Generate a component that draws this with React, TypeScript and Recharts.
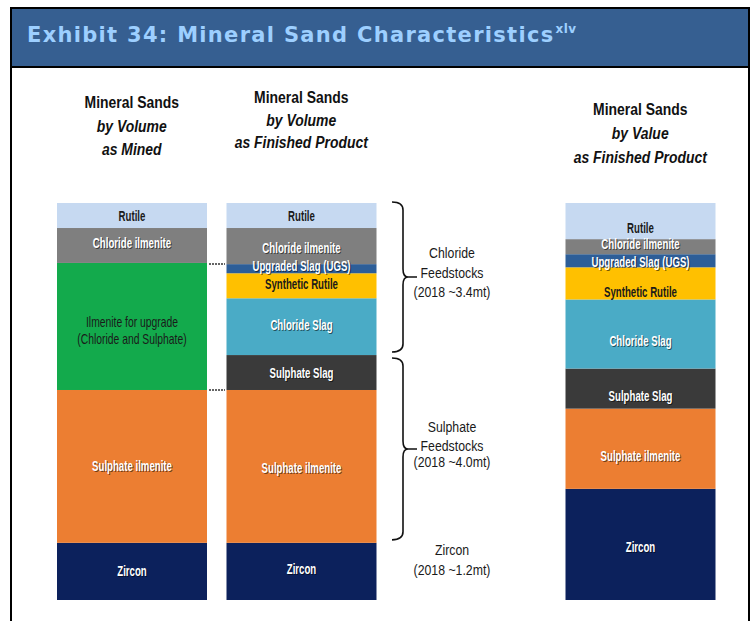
import React from 'react';
import { BarChart, Bar, XAxis, YAxis, LabelList, ReferenceArea } from 'recharts';

// ---------- data ----------
const categories = ['asMined', 'finishedVolume', 'gap', 'finishedValue'];
const headerLine1 = ['Mineral Sands', 'Mineral Sands', '', 'Mineral Sands'];
const headerLine2 = ['by Volume', 'by Volume', '', 'by Value'];
const headerLine3 = ['as Mined', 'as Finished Product', '', 'as Finished Product'];

// share of each column (%), bottom to top
const zircon = [14.4, 14.4, null, 28.0];
const sulphateIlmenite = [38.5, 38.5, null, 20.2];
const ilmeniteUpgrade = [32.0, null, null, null];
const sulphateSlag = [null, 8.8, null, 10.1];
const chlorideSlag = [null, 14.3, null, 17.4];
const syntheticRutile = [null, 6.3, null, 8.1];
const upgradedSlag = [null, 2.3, null, 3.3];
const chlorideIlmenite = [8.8, 9.1, null, 3.8];
const rutile = [6.3, 6.3, null, 9.1];

const chlorideFeedstockLines = ['Chloride', 'Feedstocks', '(2018 ~3.4mt)'];
const sulphateFeedstockLines = ['Sulphate', 'Feedstocks', '(2018 ~4.0mt)'];
const zirconLines = ['Zircon', '(2018 ~1.2mt)'];

const data = categories.map((c, i) => ({
  category: c,
  zircon: zircon[i],
  sulphateIlmenite: sulphateIlmenite[i],
  ilmeniteUpgrade: ilmeniteUpgrade[i],
  sulphateSlag: sulphateSlag[i],
  chlorideSlag: chlorideSlag[i],
  syntheticRutile: syntheticRutile[i],
  upgradedSlag: upgradedSlag[i],
  chlorideIlmenite: chlorideIlmenite[i],
  rutile: rutile[i],
}));

const v = (a: (number | null)[], i: number) => a[i] || 0;
const col = 1;
const zirconTop = v(zircon, col);
const sulphateTop = zirconTop + v(sulphateIlmenite, col) + v(sulphateSlag, col);

// ---------- styles ----------
const SANS = "'Liberation Sans', Arimo, Arial, sans-serif";

type Series = {
  key: string;
  lines: string[];
  fill: string;
  text: string;
  weight: number;
  sx: number;
  dy: number[];
};

const series: Series[] = [
  { key: 'zircon', lines: ['Zircon'], fill: '#0c215c', text: '#ffffff', weight: 700, sx: 0.69, dy: [0, -2, 0, 3] },
  { key: 'sulphateIlmenite', lines: ['Sulphate ilmenite'], fill: '#ec7e32', text: '#ffffff', weight: 700, sx: 0.69, dy: [0, 2, 0, 8] },
  { key: 'ilmeniteUpgrade', lines: ['Ilmenite for upgrade', '(Chloride and Sulphate)'], fill: '#13aa4c', text: '#1a1a1a', weight: 400, sx: 0.74, dy: [4, 0, 0, 0] },
  { key: 'sulphateSlag', lines: ['Sulphate Slag'], fill: '#3a3a3a', text: '#ffffff', weight: 700, sx: 0.69, dy: [0, 1, 0, 8] },
  { key: 'chlorideSlag', lines: ['Chloride Slag'], fill: '#4aabc6', text: '#ffffff', weight: 700, sx: 0.69, dy: [0, -1, 0, 7] },
  { key: 'syntheticRutile', lines: ['Synthetic Rutile'], fill: '#ffc000', text: '#1a1a1a', weight: 700, sx: 0.69, dy: [0, -1, 0, 9] },
  { key: 'upgradedSlag', lines: ['Upgraded Slag (UGS)'], fill: '#2d5e98', text: '#ffffff', weight: 700, sx: 0.69, dy: [0, -2, 0, 1.5] },
  { key: 'chlorideIlmenite', lines: ['Chloride ilmenite'], fill: '#7f7f7f', text: '#ffffff', weight: 700, sx: 0.69, dy: [-2, 2, 0, -2.5] },
  { key: 'rutile', lines: ['Rutile'], fill: '#c6d9f1', text: '#1a1a1a', weight: 700, sx: 0.69, dy: [1, 1, 0, 7] },
];

const headerY = [
  [102, 126, 149],
  [97, 120, 142],
  [0, 0, 0],
  [109, 133, 157],
];

const NText = (p: { x: number; y: number; sx: number; size: number; weight?: number; italic?: boolean; fill: string; children: string }) => (
  <g transform={`translate(${p.x} ${p.y}) scale(${p.sx} 1)`}>
    <text
      x={0}
      y={0}
      textAnchor="middle"
      dominantBaseline="central"
      fontFamily={SANS}
      fontSize={p.size}
      fontWeight={p.weight || 400}
      fontStyle={p.italic ? 'italic' : 'normal'}
      fill={p.fill}
    >
      {p.children}
    </text>
  </g>
);

const makeLabel = (s: Series) => (props: any) => {
  const { x, y, width, height, value, index } = props;
  if (value == null || !value || !height) return null;
  const cx = Number(x) + Number(width) / 2;
  const cy = Number(y) + Number(height) / 2 + (s.dy[index] || 0);
  const lh = 17;
  const start = cy - ((s.lines.length - 1) * lh) / 2;
  const white = s.text === '#ffffff';
  return (
    <g>
      {s.lines.map((ln, k) => (
        <g key={k}>
          {white && (
            <NText x={cx + 1} y={start + k * lh + 1} sx={s.sx} size={14} weight={s.weight} fill="rgba(0,0,0,0.55)">
              {ln}
            </NText>
          )}
          <NText x={cx} y={start + k * lh} sx={s.sx} size={14} weight={s.weight} fill={s.text}>
            {ln}
          </NText>
        </g>
      ))}
    </g>
  );
};

const UpgradeShape = (props: any) => {
  const { x, y, width, height, fill } = props;
  if (!height) return null;
  const x1 = x + width + 2;
  const x2 = x + width + 18;
  return (
    <g>
      <rect x={x} y={y} width={width} height={height} fill={fill} />
      <line x1={x1} x2={x2} y1={y + 1} y2={y + 1} stroke="#333" strokeWidth={1.5} strokeDasharray="2 1" />
      <line x1={x1} x2={x2} y1={y + height} y2={y + height} stroke="#333" strokeWidth={1.5} strokeDasharray="2 1" />
    </g>
  );
};

const PlainShape = (props: any) => {
  const { x, y, width, height, fill } = props;
  if (!height) return null;
  return <rect x={x} y={y} width={width} height={height} fill={fill} />;
};

const braceShape = (lines: string[], padTop: number, padBottom: number, textDy: number[]) => (props: any) => {
  const { x, y, width, height } = props;
  const top = y + padTop;
  const bottom = y + height - padBottom;
  const x0 = x + width + 6;
  const x1 = x0 + 11;
  const xt = x0 + 25;
  const r = 8;
  const mid = (top + bottom) / 2;
  const d = `M${x0},${top} Q${x1},${top} ${x1},${top + r} L${x1},${mid - r} Q${x1},${mid} ${x1 + 5},${mid} L${xt},${mid} M${x1 + 5},${mid} Q${x1},${mid} ${x1},${mid + r} L${x1},${bottom - r} Q${x1},${bottom} ${x0},${bottom}`;
  const tx = x + width + 66;
  return (
    <g>
      <path d={d} fill="none" stroke="#111" strokeWidth={1.6} />
      {lines.map((ln, k) => (
        <NText key={k} x={tx} y={mid + textDy[k]} sx={0.82} size={15} fill="#1a1a1a">
          {ln}
        </NText>
      ))}
    </g>
  );
};

const textOnly = (lines: string[], textDy: number[]) => (props: any) => {
  const { x, y, width, height } = props;
  const mid = y + height / 2;
  const tx = x + width + 66;
  return (
    <g>
      {lines.map((ln, k) => (
        <NText key={k} x={tx} y={mid + textDy[k]} sx={0.82} size={15} fill="#1a1a1a">
          {ln}
        </NText>
      ))}
    </g>
  );
};

const HeaderTick = (props: any) => {
  const { x, payload } = props;
  const i = payload.index;
  if (!headerLine1[i]) return null;
  const ys = headerY[i];
  return (
    <g>
      <NText x={x} y={ys[0]} sx={0.82} size={17} weight={700} fill="#111">{headerLine1[i]}</NText>
      <NText x={x} y={ys[1]} sx={0.82} size={17} weight={700} italic fill="#111">{headerLine2[i]}</NText>
      <NText x={x} y={ys[2]} sx={0.82} size={17} weight={700} italic fill="#111">{headerLine3[i]}</NText>
    </g>
  );
};

export default function App() {
  return (
    <div style={{ position: 'absolute', left: 0, top: 0, width: 752, height: 621, background: '#fff', overflow: 'hidden' }}>
      <div
        style={{
          position: 'absolute',
          left: 10,
          top: 7,
          width: 736,
          height: 640,
          borderLeft: '2px solid #000',
          borderRight: '2px solid #000',
          borderTop: '2px solid #000',
        }}
      />
      <div
        style={{
          position: 'absolute',
          left: 12,
          top: 9,
          width: 736,
          height: 57,
          background: '#365f91',
          borderBottom: '2px solid #000',
        }}
      >
        <div
          style={{
            position: 'absolute',
            left: 15,
            top: 14,
            fontFamily: "'DejaVu Sans', Verdana, sans-serif",
            fontWeight: 700,
            fontSize: 21,
            letterSpacing: '1.3px',
            color: '#9dcfff',
            whiteSpace: 'nowrap',
            lineHeight: '25px',
          }}
        >
          Exhibit 34: Mineral Sand Characteristics
          <span style={{ fontSize: 12, letterSpacing: '0.5px', position: 'relative', top: -9, marginLeft: 1 }}>xlv</span>
        </div>
      </div>
      <div style={{ position: 'absolute', left: 0, top: 0 }}>
        <BarChart
          width={752}
          height={621}
          data={data}
          margin={{ top: 202, right: 27, bottom: 21, left: 47 }}
          barCategoryGap={10}
        >
          <XAxis dataKey="category" orientation="top" height={1} axisLine={false} tickLine={false} tick={<HeaderTick />} interval={0} />
          <YAxis type="number" domain={[0, 100]} hide />
          {series.map((s) => (
            <Bar
              key={s.key}
              dataKey={s.key}
              stackId="s"
              fill={s.fill}
              isAnimationActive={false}
              shape={s.key === 'ilmeniteUpgrade' ? <UpgradeShape /> : <PlainShape />}
            >
              <LabelList dataKey={s.key} content={makeLabel(s)} />
            </Bar>
          ))}
          <ReferenceArea
            x1="finishedVolume"
            x2="finishedVolume"
            y1={sulphateTop}
            y2={100}
            shape={braceShape(chlorideFeedstockLines, -1, 3, [-24, -4, 15])}
          />
          <ReferenceArea
            x1="finishedVolume"
            x2="finishedVolume"
            y1={zirconTop}
            y2={sulphateTop}
            shape={braceShape(sulphateFeedstockLines, 3, 3, [-22, -3, 13])}
          />
          <ReferenceArea
            x1="finishedVolume"
            x2="finishedVolume"
            y1={0}
            y2={zirconTop}
            shape={textOnly(zirconLines, [-21, -1])}
          />
        </BarChart>
      </div>
    </div>
  );
}
